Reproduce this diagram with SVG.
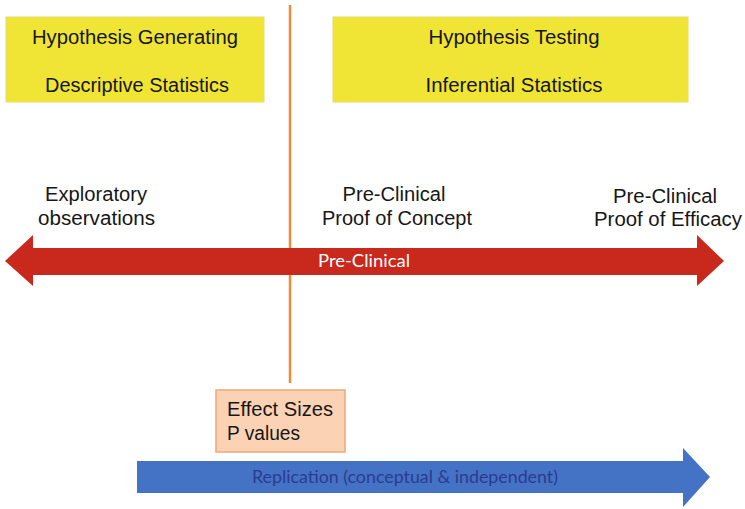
<svg xmlns="http://www.w3.org/2000/svg" width="745" height="509" viewBox="0 0 745 509">
  <style>
    .lbl { font-family: "Liberation Sans", Arial, sans-serif; font-size: 20px; fill: #161616; text-anchor: middle; }
    .lbl-l { font-family: "Liberation Sans", Arial, sans-serif; font-size: 20px; fill: #161616; text-anchor: start; }
    .bar { font-family: Lato, "Open Sans", sans-serif; font-size: 17px; text-anchor: middle; }
    .box-y { fill: #f0e535; stroke: #e6dc6a; stroke-width: 1; }
    .box-p { fill: #fbd3b4; stroke: #eda979; stroke-width: 1.5; }
  </style>
  <rect width="745" height="509" fill="#ffffff"/>

  <!-- vertical divider -->
  <g id="connectors">
    <line x1="290" y1="5" x2="290" y2="383" stroke="#f08a3a" stroke-width="2.5"/>
  </g>

  <g id="hypothesis-generating">
    <rect class="box-y" x="6" y="17" width="258" height="85"/>
    <text class="lbl" x="135" y="44" textLength="206" lengthAdjust="spacingAndGlyphs">Hypothesis Generating</text>
    <text class="lbl" x="137" y="92" textLength="184" lengthAdjust="spacingAndGlyphs">Descriptive Statistics</text>
  </g>

  <g id="hypothesis-testing">
    <rect class="box-y" x="333" y="17" width="355" height="85"/>
    <text class="lbl" x="514" y="44" textLength="171" lengthAdjust="spacingAndGlyphs">Hypothesis Testing</text>
    <text class="lbl" x="514" y="92" textLength="177" lengthAdjust="spacingAndGlyphs">Inferential Statistics</text>
  </g>

  <g id="exploratory">
    <text class="lbl" x="96" y="201" textLength="102" lengthAdjust="spacingAndGlyphs">Exploratory</text>
    <text class="lbl" x="96.5" y="225" textLength="117" lengthAdjust="spacingAndGlyphs">observations</text>
  </g>

  <g id="proof-of-concept">
    <text class="lbl" x="394" y="201" textLength="103" lengthAdjust="spacingAndGlyphs">Pre-Clinical</text>
    <text class="lbl" x="397" y="225" textLength="150" lengthAdjust="spacingAndGlyphs">Proof of Concept</text>
  </g>

  <g id="proof-of-efficacy">
    <text class="lbl" x="665" y="203" textLength="104" lengthAdjust="spacingAndGlyphs">Pre-Clinical</text>
    <text class="lbl" x="668" y="226" textLength="148" lengthAdjust="spacingAndGlyphs">Proof of Efficacy</text>
  </g>

  <g id="pre-clinical-arrow">
    <polygon fill="#c9281c" points="5,261 33,235 33,248 697,248 697,235 724,261 697,286 697,275 33,275 33,286"/>
    <text class="bar" x="364" y="267" fill="#ffffff" textLength="92" lengthAdjust="spacingAndGlyphs">Pre-Clinical</text>
  </g>

  <g id="effect-sizes">
    <rect class="box-p" x="216" y="390" width="129" height="62"/>
    <text class="lbl-l" x="227" y="416" textLength="106" lengthAdjust="spacingAndGlyphs">Effect Sizes</text>
    <text class="lbl-l" x="227" y="440" textLength="73" lengthAdjust="spacingAndGlyphs">P values</text>
  </g>

  <g id="replication-arrow">
    <polygon fill="#4472c4" points="137,461 683,461 683,448 710,477 683,507 683,493 137,493"/>
    <text class="bar" x="405" y="483" fill="#2c3b92" textLength="306" lengthAdjust="spacingAndGlyphs">Replication (conceptual &amp; independent)</text>
  </g>
</svg>
